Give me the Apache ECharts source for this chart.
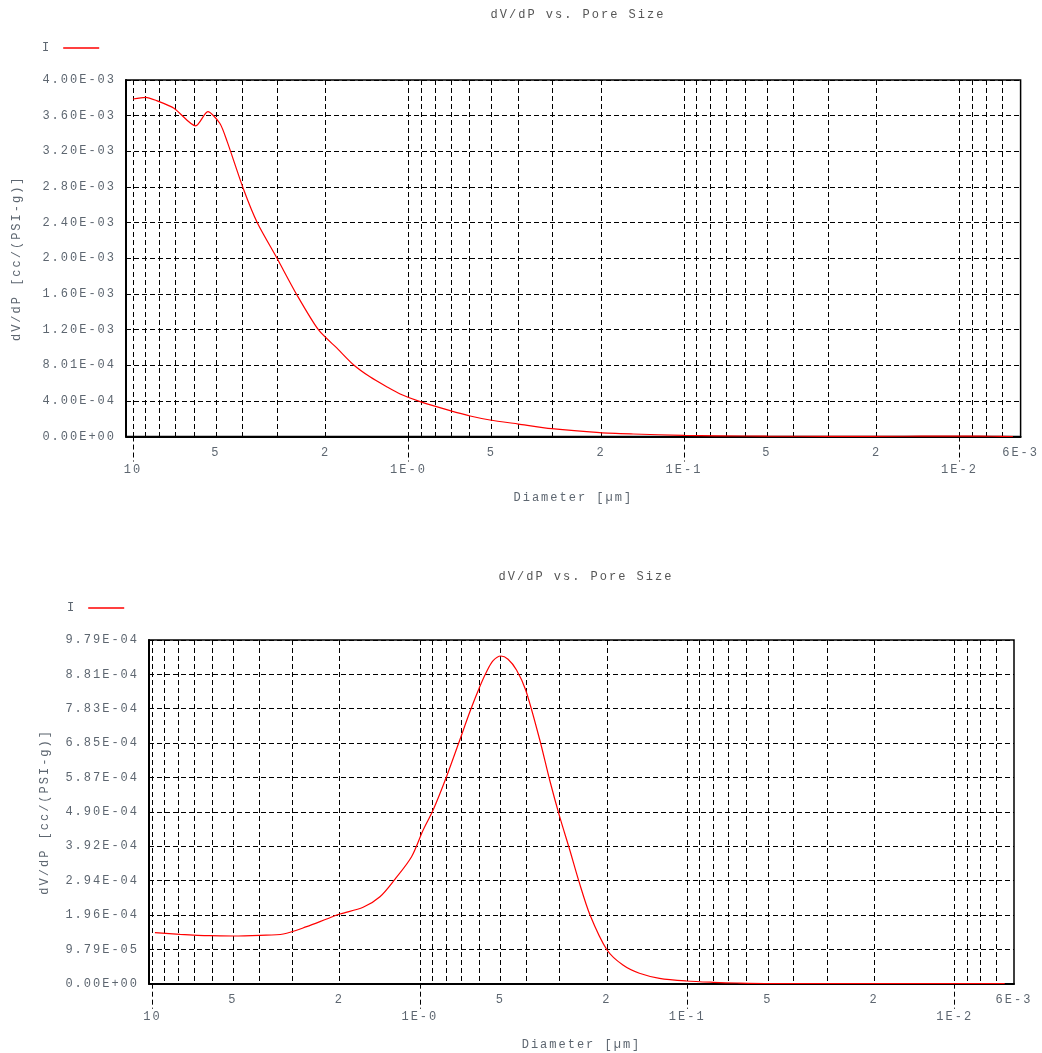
<!DOCTYPE html>
<html><head><meta charset="utf-8">
<script src="https://cdn.jsdelivr.net/npm/echarts@6/dist/echarts.min.js"></script>
<style>html,body{margin:0;padding:0;background:#fff}#c{width:1042px;height:1053px}</style>
</head><body><div id="c"></div>
<script>
// ---- data ----
const diam1 = [10.0, 9.0, 8.2, 7.1, 5.92, 5.35, 4.84, 4.55, 3.96, 3.53, 3.0, 2.54, 2.12, 1.80, 1.58, 1.38, 1.20, 1.072, 0.907, 0.706, 0.597, 0.506, 0.399, 0.302, 0.202, 0.153, 0.100, 0.076, 0.05, 0.03, 0.0158, 0.012, 0.0095, 0.0076, 0.0064];
const dvdp1 = [3.790e-3, 3.809e-3, 3.771e-3, 3.686e-3, 3.487e-3, 3.647e-3, 3.517e-3, 3.311e-3, 2.768e-3, 2.394e-3, 2.001e-3, 1.589e-3, 1.196e-3, 9.78e-4, 8.03e-4, 6.70e-4, 5.59e-4, 4.77e-4, 3.91e-4, 2.90e-4, 2.30e-4, 1.85e-4, 1.40e-4, 8.8e-5, 4.3e-5, 2.8e-5, 1.2e-5, 8e-6, 4e-6, 2e-6, 3e-6, 4e-6, 4e-6, 3e-6, 0];

const diam2 = [9.79, 7.88, 6.10, 4.99, 3.96, 3.24, 2.65, 2.23, 1.99, 1.63, 1.41, 1.24, 1.074, 0.972, 0.892, 0.795, 0.709, 0.650, 0.597, 0.563, 0.532, 0.498, 0.468, 0.435, 0.402, 0.356, 0.327, 0.300, 0.275, 0.255, 0.231, 0.1995, 0.174, 0.151, 0.127, 0.1007, 0.080, 0.065, 0.04, 0.02, 0.01, 0.0065];
const dvdp2 = [1.453e-4, 1.407e-4, 1.367e-4, 1.359e-4, 1.379e-4, 1.416e-4, 1.624e-4, 1.843e-4, 1.985e-4, 2.176e-4, 2.478e-4, 2.974e-4, 3.618e-4, 4.378e-4, 4.948e-4, 5.897e-4, 6.942e-4, 7.748e-4, 8.461e-4, 8.888e-4, 9.201e-4, 9.335e-4, 9.241e-4, 8.936e-4, 8.366e-4, 6.942e-4, 5.803e-4, 4.757e-4, 3.808e-4, 2.95e-4, 1.957e-4, 9.6e-5, 5.3e-5, 2.96e-5, 1.54e-5, 7.7e-6, 4e-6, 2e-6, 0, 0, 0, 0];

const xTickValues = [10, 5, 2, 1, 0.5, 0.2, 0.1, 0.05, 0.02, 0.01, 0.006];
const xTickLabels = ['\n10', '5', '2', '\n1E-0', '5', '2', '\n1E-1', '5', '2', '\n1E-2', '6E-3'];
const xDecades = [10, 1, 0.1, 0.01];
const xGridValues = [10, 9, 8, 7, 6, 5, 4, 3, 2, 1, 0.9, 0.8, 0.7, 0.6, 0.5, 0.4, 0.3, 0.2, 0.1,
  0.09, 0.08, 0.07, 0.06, 0.05, 0.04, 0.03, 0.02, 0.01, 0.009, 0.008, 0.007];
const yMax1 = 4.003e-3, yStep1 = 4.003e-4;
const yMax2 = 9.7908e-4, yStep2 = 9.7908e-5;
const titleText = 'dV/dP vs. Pore Size';
const seriesName = 'I';
const xName = 'Diameter [µm]';
const yName = 'dV/dP [cc/(PSI-g)]';

// ---- wide monospace text (letter spacing) ----
(function () {
  const p = CanvasRenderingContext2D.prototype;
  const f = p.fillText, m = p.measureText;
  p.fillText = function () { this.letterSpacing = '2px'; return f.apply(this, arguments); };
  p.measureText = function () { this.letterSpacing = '2px'; return m.apply(this, arguments); };
})();

const FONT = 'Liberation Mono';
const TXT = '#5d6670';
function fmtY(v) {
  const s = Math.abs(v) < 1e-12 ? '0.00e+0' : v.toExponential(2);
  const parts = s.split('e');
  const e = parseInt(parts[1], 10);
  return parts[0] + 'E' + (e < 0 ? '-' : '+') + String(Math.abs(e)).padStart(2, '0');
}
function fmtX(v) {
  let best = 0, bd = Infinity;
  for (let i = 0; i < xTickValues.length; i++) {
    const d = Math.abs(Math.log10(v) - Math.log10(xTickValues[i]));
    if (d < bd) { bd = d; best = i; }
  }
  return xTickLabels[best];
}
const dash = [5, 3];

function xAxesFor(gi, maxX) {
  return [{
    type: 'log', gridIndex: gi, inverse: true, min: 0.006, max: maxX, position: 'bottom',
    name: xName, nameLocation: 'middle', nameGap: 54,
    nameTextStyle: { color: TXT, fontFamily: FONT, fontSize: 12 },
    axisLine: { show: true, onZero: false, lineStyle: { color: '#000', width: 2 } },
    axisTick: { show: true, customValues: xDecades, length: 25, lineStyle: { color: '#000', type: dash, width: 1 } },
    axisLabel: { show: true, customValues: xTickValues, margin: 8, color: TXT, fontFamily: FONT, fontSize: 12, lineHeight: 17,
      formatter: fmtX },
    splitLine: { show: false }
  }, {
    type: 'log', gridIndex: gi, inverse: true, min: 0.006, max: maxX, position: 'bottom',
    axisLine: { show: false }, axisLabel: { show: false },
    axisTick: { show: false, customValues: xGridValues },
    splitLine: { show: true, lineStyle: { color: '#000', type: dash, width: 1 } }
  }];
}
function yAxisFor(gi, max, step, gap) {
  return {
    type: 'value', gridIndex: gi, min: 0, max: max, interval: step,
    name: yName, nameLocation: 'middle', nameGap: gap, nameRotate: 90,
    nameTextStyle: { color: TXT, fontFamily: FONT, fontSize: 12 },
    axisLine: { show: true, lineStyle: { color: '#000', width: 2 } },
    axisTick: { show: true, inside: true, length: 4, lineStyle: { color: '#000' } },
    axisLabel: { color: TXT, fontFamily: FONT, fontSize: 12, margin: 10, formatter: fmtY },
    splitLine: { show: true, lineStyle: { color: '#000', type: dash, width: 1 } }
  };
}
function legendFor(left, top) {
  return { left: left, top: top, align: 'right', icon: 'rect', itemWidth: 36, itemHeight: 1.6, itemGap: 0, data: [seriesName],
    itemStyle: { color: '#ff0000' },
    textStyle: { color: TXT, fontFamily: FONT, fontSize: 12, padding: [0, 7, 0, 0] } };
}

const chart = echarts.init(document.getElementById('c'));
const xa1 = xAxesFor(0, 10.6), xa2 = xAxesFor(1, 10.3);
chart.setOption({
  animation: false,
  backgroundColor: '#fff',
  textStyle: { fontFamily: FONT },
  title: [
    { text: titleText, left: 573, top: 3, textAlign: 'center', textStyle: { color: '#555', fontFamily: FONT, fontSize: 12, fontWeight: 'normal' } },
    { text: titleText, left: 581, top: 565, textAlign: 'center', textStyle: { color: '#555', fontFamily: FONT, fontSize: 12, fontWeight: 'normal' } }
  ],
  legend: [legendFor(37, 36), legendFor(62, 596)],
  grid: [
    { left: 126, right: 21, top: 80, height: 356.5, show: true, borderColor: '#000', borderWidth: 1.5, backgroundColor: 'transparent' },
    { left: 149, right: 28, top: 640, height: 343.7, show: true, borderColor: '#000', borderWidth: 1.5, backgroundColor: 'transparent' }
  ],
  xAxis: [xa1[0], xa1[1], xa2[0], xa2[1]],
  yAxis: [yAxisFor(0, yMax1, yStep1, 102), yAxisFor(1, yMax2, yStep2, 97)],
  series: [
    { name: seriesName, type: 'line', xAxisIndex: 0, yAxisIndex: 0, symbol: 'none', showSymbol: false, smooth: 0.25,
      lineStyle: { color: '#ff0000', width: 1.2 }, itemStyle: { color: '#ff0000' },
      data: diam1.map((d, i) => [d, dvdp1[i]]), z: 5 },
    { name: seriesName, type: 'line', xAxisIndex: 2, yAxisIndex: 1, symbol: 'none', showSymbol: false, smooth: 0.3,
      lineStyle: { color: '#ff0000', width: 1.2 }, itemStyle: { color: '#ff0000' },
      data: diam2.map((d, i) => [d, dvdp2[i]]), z: 5 }
  ]
});
</script></body></html>
